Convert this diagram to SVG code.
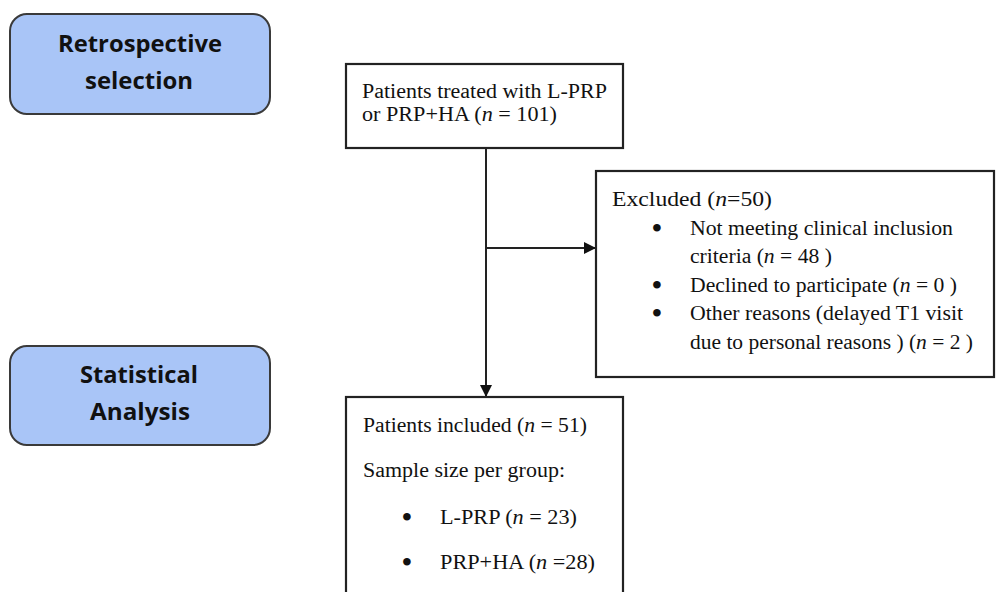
<svg xmlns="http://www.w3.org/2000/svg" width="996" height="592" viewBox="0 0 996 592">
<style>
.stage{fill:#a9c5f7;stroke:#3a3a3a;stroke-width:2}
.box{fill:#fff;stroke:#222;stroke-width:2.2}
.lbl{font-family:"Open Sans","Liberation Sans",sans-serif;font-weight:bold;font-size:23px;fill:#111}
.t{font-family:"Liberation Serif","Times New Roman",serif;font-size:20px;fill:#111}
.b{font-family:"Liberation Serif","Times New Roman",serif;font-size:28px;font-weight:bold;fill:#111;text-anchor:middle}
.line{stroke:#222;stroke-width:2;fill:none}
</style>
<defs>
<marker id="ah" markerWidth="12" markerHeight="12" refX="11" refY="6" orient="auto" markerUnits="userSpaceOnUse">
<path d="M0,0 L12,6 L0,12 z" fill="#111"/>
</marker>
</defs>
<rect width="996" height="592" fill="#fff"/>
<g id="stage-retro">
<rect class="stage" x="10" y="14" width="260" height="100" rx="17"/>
<text class="lbl" x="58" y="52" textLength="164" lengthAdjust="spacingAndGlyphs">Retrospective</text>
<text class="lbl" x="85" y="89" textLength="108" lengthAdjust="spacingAndGlyphs">selection</text>
</g>
<g id="stage-stat">
<rect class="stage" x="10" y="346" width="260" height="99" rx="17"/>
<text class="lbl" x="80" y="383" textLength="118" lengthAdjust="spacingAndGlyphs">Statistical</text>
<text class="lbl" x="90" y="420" textLength="100" lengthAdjust="spacingAndGlyphs">Analysis</text>
</g>
<g id="connectors">
<line class="line" x1="486" y1="148" x2="486" y2="396" marker-end="url(#ah)"/>
<line class="line" x1="486" y1="248" x2="595" y2="248" marker-end="url(#ah)"/>
</g>
<g id="treated">
<rect class="box" x="346" y="64" width="277" height="84"/>
<text class="t" x="362" y="98" textLength="245" lengthAdjust="spacingAndGlyphs">Patients treated with L-PRP</text>
<text class="t" x="362" y="121" textLength="195" lengthAdjust="spacingAndGlyphs">or PRP+HA (<tspan font-style="italic">n</tspan> = 101)</text>
</g>
<g id="excluded">
<rect class="box" x="596" y="171" width="398" height="206"/>
<text class="t" x="612" y="206" textLength="160" lengthAdjust="spacingAndGlyphs">Excluded  (<tspan font-style="italic">n</tspan>=50)</text>
<text class="b" x="657" y="237">•</text>
<text class="t" x="690" y="235" textLength="263" lengthAdjust="spacingAndGlyphs">Not meeting clinical inclusion</text>
<text class="t" x="690" y="263" textLength="142" lengthAdjust="spacingAndGlyphs">criteria (<tspan font-style="italic">n</tspan> = 48 )</text>
<text class="b" x="657" y="294">•</text>
<text class="t" x="690" y="292" textLength="267" lengthAdjust="spacingAndGlyphs">Declined to participate (<tspan font-style="italic">n</tspan> = 0 )</text>
<text class="b" x="657" y="322">•</text>
<text class="t" x="690" y="320" textLength="273" lengthAdjust="spacingAndGlyphs">Other reasons (delayed T1 visit</text>
<text class="t" x="690" y="349" textLength="283" lengthAdjust="spacingAndGlyphs">due to personal reasons ) (<tspan font-style="italic">n</tspan> = 2 )</text>
</g>
<g id="included">
<rect class="box" x="346" y="397" width="277" height="200"/>
<text class="t" x="363" y="432" textLength="224" lengthAdjust="spacingAndGlyphs">Patients included (<tspan font-style="italic">n</tspan> = 51)</text>
<text class="t" x="363" y="477" textLength="202" lengthAdjust="spacingAndGlyphs">Sample size per group:</text>
<text class="b" x="407" y="526">•</text>
<text class="t" x="440" y="524" textLength="137" lengthAdjust="spacingAndGlyphs">L-PRP (<tspan font-style="italic">n</tspan> = 23)</text>
<text class="b" x="407" y="571">•</text>
<text class="t" x="440" y="569" textLength="155" lengthAdjust="spacingAndGlyphs">PRP+HA (<tspan font-style="italic">n</tspan> =28)</text>
</g>
</svg>
